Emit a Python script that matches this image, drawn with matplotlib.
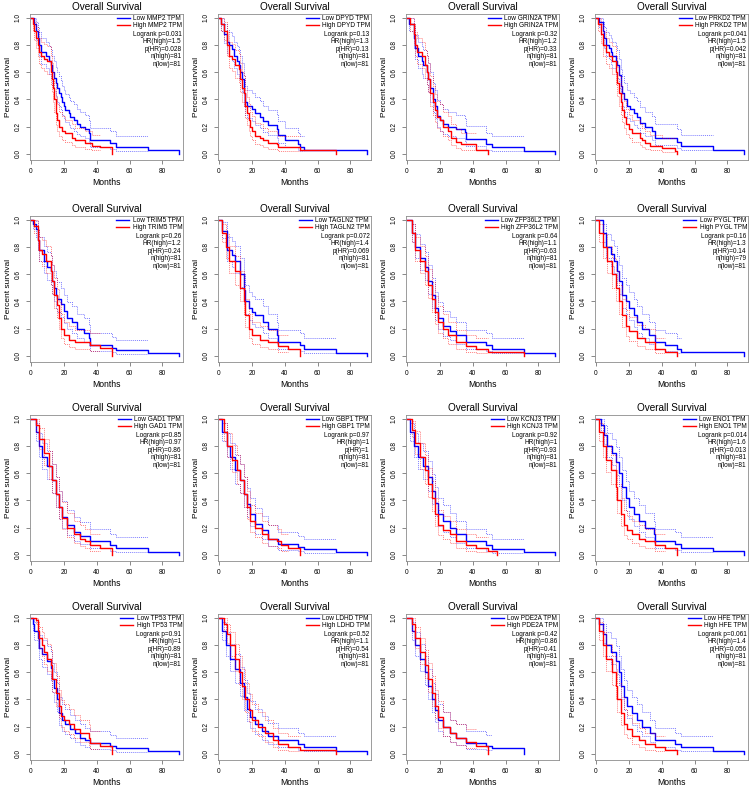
import numpy as np
import matplotlib
matplotlib.use("Agg")
import matplotlib.pyplot as plt

plt.rcParams['font.family'] = ['Liberation Sans', 'DejaVu Sans']

# ---------------- statistics shown in each panel ----------------
genes = ["MMP2", "DPYD", "GRIN2A", "PRKD2",
         "TRIM5", "TAGLN2", "ZFP36L2", "PYGL",
         "GAD1", "GBP1", "KCNJ3", "ENO1",
         "TP53", "LDHD", "PDE2A", "HFE"]
logrank_p = ["0.031", "0.13", "0.32", "0.041",
             "0.26", "0.072", "0.64", "0.16",
             "0.85", "0.97", "0.92", "0.014",
             "0.91", "0.52", "0.42", "0.061"]
hr_high = ["1.5", "1.3", "1.2", "1.5",
           "1.2", "1.4", "1.1", "1.3",
           "0.97", "1", "1", "1.6",
           "1", "1.1", "0.86", "1.4"]
p_hr = ["0.028", "0.13", "0.33", "0.042",
        "0.24", "0.069", "0.63", "0.14",
        "0.86", "1", "0.93", "0.013",
        "0.89", "0.54", "0.41", "0.056"]
n_high = [81, 81, 81, 81, 81, 81, 81, 79, 81, 81, 81, 81, 81, 81, 81, 81]
n_low = [81] * 16

x_ticks = [0, 20, 40, 60, 80]
y_ticks = [0.0, 0.2, 0.4, 0.6, 0.8, 1.0]

# ---------------- Kaplan-Meier step curves (months, survival) ----------------
MMP2_low_t = [0, 2, 3, 4, 5, 6, 9, 11, 12, 13, 14, 15, 16, 17, 18, 19, 20, 21, 23, 24, 26, 28, 30, 33, 35, 36, 48, 52, 71, 90]
MMP2_low_s = [1, .95, .9, .85, .8, .75, .72, .68, .65, .6, .56, .52, .48, .45, .42, .38, .35, .32, .3, .27, .25, .22, .2, .18, .15, .1, .08, .05, .025, 0]
MMP2_high_t = [0, 1, 2, 3, 4, 5, 6, 8, 10, 12, 13, 13.5, 14, 15, 16, 17, 19, 21, 25, 27, 33, 37, 42, 49]
MMP2_high_s = [1, .95, .9, .85, .8, .75, .72, .7, .68, .6, .55, .48, .4, .3, .25, .2, .17, .15, .12, .1, .08, .06, .05, 0]

DPYD_low_t = [0, 1, 3, 5, 6, 8, 9, 11, 12, 13, 14, 15, 16, 17, 20, 22, 25, 27, 30, 35, 36, 40, 48, 49, 52, 90]
DPYD_low_s = [1, .95, .88, .82, .8, .77, .72, .68, .65, .6, .55, .45, .38, .35, .33, .3, .27, .24, .21, .18, .14, .1, .07, .05, .025, 0]
DPYD_high_t = [0, 1, 3, 5, 6, 8, 10, 12, 13, 14, 15, 16, 17, 18, 19, 20, 22, 25, 27, 30, 35, 36, 49, 71]
DPYD_high_s = [1, .95, .9, .8, .72, .7, .65, .62, .55, .48, .45, .35, .3, .25, .2, .17, .13, .12, .1, .08, .07, .05, .025, 0]

GRIN2A_low_t = [0, 1, 4, 5, 7, 9, 10, 12, 13, 14, 16, 17, 18, 20, 22, 25, 30, 35, 36, 48, 52, 71, 90]
GRIN2A_low_s = [1, .95, .85, .78, .72, .68, .65, .6, .55, .48, .4, .35, .28, .25, .22, .2, .18, .16, .11, .07, .05, .02, 0]
GRIN2A_high_t = [0, 2, 4, 5, 6, 9, 11, 12, 13, 14, 16, 17, 18, 20, 22, 25, 27, 30, 33, 42, 49]
GRIN2A_high_s = [1, .95, .88, .8, .75, .72, .65, .6, .55, .45, .38, .32, .27, .25, .2, .17, .12, .09, .07, .03, 0]

PRKD2_low_t = [0, 2, 4, 5, 6, 8, 9, 10, 12, 13, 14, 15, 16, 17, 19, 21, 23, 25, 27, 30, 34, 36, 49, 52, 71, 90]
PRKD2_low_s = [1, .97, .9, .85, .8, .78, .75, .72, .68, .65, .58, .5, .45, .4, .35, .33, .3, .27, .23, .2, .17, .12, .09, .06, .03, 0]
PRKD2_high_t = [0, 1, 3, 4, 6, 8, 10, 12, 13, 14, 15, 16, 17, 18, 20, 22, 27, 28, 30, 33, 40, 48, 49]
PRKD2_high_s = [1, .95, .88, .8, .75, .72, .68, .6, .52, .45, .38, .32, .27, .22, .18, .15, .12, .1, .08, .06, .04, .02, 0]

TRIM5_low_t = [0, 1, 3, 4, 5, 8, 10, 12, 13, 14, 15, 16, 18, 20, 22, 25, 28, 32, 35, 36, 49, 52, 71, 90]
TRIM5_low_s = [1, .97, .93, .85, .78, .7, .65, .62, .55, .5, .45, .42, .38, .33, .28, .25, .2, .17, .13, .08, .06, .04, .02, 0]
TRIM5_high_t = [0, 2, 4, 5, 7, 9, 12, 13, 14, 16, 17, 18, 20, 23, 27, 36, 42, 49]
TRIM5_high_s = [1, .95, .85, .78, .75, .7, .62, .55, .45, .37, .28, .2, .15, .12, .1, .08, .06, 0]

TAGLN2_low_t = [0, 2, 5, 8, 10, 13, 15, 16, 18, 20, 22, 27, 30, 35, 36, 49, 52, 71, 90]
TAGLN2_low_s = [1, .92, .78, .74, .7, .6, .48, .4, .35, .32, .3, .25, .2, .15, .1, .08, .05, .02, 0]
TAGLN2_high_t = [0, 2, 4, 6, 10, 13, 15, 16, 18, 20, 25, 30, 36, 42, 49]
TAGLN2_high_s = [1, .9, .8, .7, .62, .5, .4, .3, .2, .15, .12, .1, .07, .05, 0]

ZFP36L2_low_t = [0, 3, 5, 8, 11, 13, 15, 17, 19, 22, 26, 30, 36, 48, 52, 71, 90]
ZFP36L2_low_s = [1, .9, .8, .72, .65, .55, .45, .35, .28, .22, .18, .15, .1, .08, .05, .02, 0]
ZFP36L2_high_t = [0, 3, 5, 8, 11, 13, 15, 17, 19, 22, 25, 30, 36, 42, 49, 71]
ZFP36L2_high_s = [1, .9, .78, .7, .62, .52, .42, .32, .25, .2, .15, .1, .07, .05, .025, 0]

PYGL_low_t = [0, 4, 6, 9, 11, 13, 14, 16, 18, 20, 23, 25, 28, 32, 36, 42, 49, 52, 90]
PYGL_low_s = [1, .9, .8, .75, .7, .62, .55, .45, .4, .35, .3, .25, .2, .15, .1, .08, .05, .03, 0]
PYGL_high_t = [0, 2, 4, 7, 10, 12, 14, 16, 18, 20, 25, 30, 36, 42, 49]
PYGL_high_s = [1, .9, .8, .7, .6, .5, .4, .3, .22, .18, .13, .1, .05, .03, 0]

GAD1_low_t = [0, 3, 5, 7, 10, 13, 15, 17, 19, 22, 26, 30, 36, 48, 52, 71, 90]
GAD1_low_s = [1, .9, .8, .72, .65, .55, .45, .35, .28, .22, .17, .14, .1, .07, .05, .02, 0]
GAD1_high_t = [0, 3, 5, 8, 11, 13, 15, 17, 19, 22, 26, 30, 33, 36, 42, 49]
GAD1_high_s = [1, .95, .85, .75, .65, .55, .45, .35, .27, .2, .15, .12, .1, .07, .05, 0]

GBP1_low_t = [0, 2, 5, 7, 10, 13, 15, 17, 19, 22, 26, 30, 36, 48, 52, 71, 90]
GBP1_low_s = [1, .9, .8, .72, .62, .55, .45, .37, .3, .23, .18, .12, .08, .06, .04, .02, 0]
GBP1_high_t = [0, 3, 5, 8, 11, 13, 15, 17, 19, 22, 26, 30, 35, 38, 42, 49]
GBP1_high_s = [1, .9, .8, .7, .62, .55, .45, .35, .25, .2, .15, .12, .1, .07, .05, 0]

KCNJ3_low_t = [0, 2, 4, 7, 10, 13, 15, 17, 19, 22, 26, 30, 36, 48, 52, 71, 90]
KCNJ3_low_s = [1, .9, .8, .72, .65, .57, .47, .38, .3, .25, .2, .15, .1, .07, .04, .02, 0]
KCNJ3_high_t = [0, 3, 5, 8, 11, 13, 15, 17, 19, 22, 26, 30, 36, 42, 49, 55]
KCNJ3_high_s = [1, .92, .82, .72, .62, .52, .42, .3, .22, .18, .15, .1, .07, .05, .03, 0]

ENO1_low_t = [0, 3, 5, 7, 10, 12, 14, 16, 18, 20, 23, 26, 30, 35, 36, 48, 52, 71, 90]
ENO1_low_s = [1, .95, .88, .8, .75, .68, .6, .5, .42, .35, .3, .25, .2, .15, .1, .08, .05, .03, 0]
ENO1_high_t = [0, 2, 4, 6, 9, 12, 13, 15, 17, 19, 22, 26, 30, 36, 42, 49]
ENO1_high_s = [1, .9, .8, .7, .62, .5, .4, .3, .22, .18, .15, .12, .1, .07, .05, 0]

TP53_low_t = [0, 1, 2, 4, 5, 7, 10, 12, 13, 14, 16, 17, 19, 21, 24, 27, 30, 33, 36, 48, 52, 71, 90]
TP53_low_s = [1, .95, .9, .85, .78, .73, .68, .63, .55, .48, .4, .3, .25, .22, .18, .15, .12, .1, .08, .06, .04, .02, 0]
TP53_high_t = [0, 3, 4, 5, 7, 8, 10, 12, 13, 15, 17, 18, 20, 23, 26, 30, 35, 36, 42, 49]
TP53_high_s = [1, .98, .9, .85, .8, .75, .7, .65, .55, .45, .35, .28, .25, .22, .18, .15, .12, .08, .06, 0]

LDHD_low_t = [0, 2, 4, 7, 10, 13, 15, 17, 19, 22, 26, 30, 36, 48, 52, 71, 90]
LDHD_low_s = [1, .9, .8, .7, .62, .52, .42, .33, .27, .22, .17, .13, .1, .07, .05, .02, 0]
LDHD_high_t = [0, 3, 5, 7, 10, 12, 14, 16, 18, 20, 24, 28, 33, 36, 42, 49, 71]
LDHD_high_s = [1, .95, .88, .8, .7, .6, .5, .4, .32, .25, .2, .15, .1, .07, .05, .03, 0]

PDE2A_low_t = [0, 3, 5, 8, 11, 13, 15, 17, 19, 22, 26, 30, 36, 48, 52, 71]
PDE2A_low_s = [1, .9, .8, .7, .6, .5, .4, .32, .25, .2, .15, .12, .08, .06, .04, 0]
PDE2A_high_t = [0, 3, 5, 8, 11, 13, 15, 17, 19, 22, 26, 30, 36, 42, 49]
PDE2A_high_s = [1, .95, .85, .75, .65, .55, .45, .35, .27, .2, .15, .12, .09, .06, 0]

HFE_low_t = [0, 2, 4, 6, 9, 12, 14, 15, 17, 19, 22, 25, 28, 33, 36, 48, 52, 71, 90]
HFE_low_s = [1, .95, .88, .8, .75, .68, .6, .5, .42, .35, .3, .25, .2, .15, .1, .07, .05, .02, 0]
HFE_high_t = [0, 2, 4, 6, 10, 12, 13, 15, 17, 19, 22, 26, 30, 36, 42, 49]
HFE_high_s = [1, .9, .8, .7, .6, .5, .4, .3, .22, .18, .13, .1, .07, .05, .03, 0]

curves = {
    "MMP2": (MMP2_low_t, MMP2_low_s, MMP2_high_t, MMP2_high_s),
    "DPYD": (DPYD_low_t, DPYD_low_s, DPYD_high_t, DPYD_high_s),
    "GRIN2A": (GRIN2A_low_t, GRIN2A_low_s, GRIN2A_high_t, GRIN2A_high_s),
    "PRKD2": (PRKD2_low_t, PRKD2_low_s, PRKD2_high_t, PRKD2_high_s),
    "TRIM5": (TRIM5_low_t, TRIM5_low_s, TRIM5_high_t, TRIM5_high_s),
    "TAGLN2": (TAGLN2_low_t, TAGLN2_low_s, TAGLN2_high_t, TAGLN2_high_s),
    "ZFP36L2": (ZFP36L2_low_t, ZFP36L2_low_s, ZFP36L2_high_t, ZFP36L2_high_s),
    "PYGL": (PYGL_low_t, PYGL_low_s, PYGL_high_t, PYGL_high_s),
    "GAD1": (GAD1_low_t, GAD1_low_s, GAD1_high_t, GAD1_high_s),
    "GBP1": (GBP1_low_t, GBP1_low_s, GBP1_high_t, GBP1_high_s),
    "KCNJ3": (KCNJ3_low_t, KCNJ3_low_s, KCNJ3_high_t, KCNJ3_high_s),
    "ENO1": (ENO1_low_t, ENO1_low_s, ENO1_high_t, ENO1_high_s),
    "TP53": (TP53_low_t, TP53_low_s, TP53_high_t, TP53_high_s),
    "LDHD": (LDHD_low_t, LDHD_low_s, LDHD_high_t, LDHD_high_s),
    "PDE2A": (PDE2A_low_t, PDE2A_low_s, PDE2A_high_t, PDE2A_high_s),
    "HFE": (HFE_low_t, HFE_low_s, HFE_high_t, HFE_high_s),
}

BLUE = "#0000ff"
RED = "#ff0000"


def conf_band(t, s, n):
    """95% log-type confidence limits (Greenwood, no censoring)."""
    t = np.asarray(t, float)
    s = np.asarray(s, float)
    k = np.max(np.nonzero(s > 0)[0])  # last positive index
    ss = s[:k]
    se = np.sqrt((1 - ss) / (n * ss))
    hi = np.minimum(ss * np.exp(1.96 * se), 1.0)
    lo = ss * np.exp(-1.96 * se)
    tt = t[:k + 1]
    hi = np.append(hi, hi[-1])
    lo = np.append(lo, lo[-1])
    return tt, lo, hi


def draw_km(ax, t, s, n, color, label):
    tt, lo, hi = conf_band(t, s, n)
    ax.step(tt, hi, where="post", color=color, lw=0.7, ls=(0, (1, 1)), alpha=0.5)
    ax.step(tt, lo, where="post", color=color, lw=0.7, ls=(0, (1, 1)), alpha=0.5)
    line, = ax.step(t, s, where="post", color=color, lw=1.0, label=label)
    return line


fig = plt.figure(figsize=(7.53, 7.90), dpi=100)
W, H = 753.0, 790.0
lefts = [30, 218, 406, 595]
tops = [14, 216, 415, 614]
aw, ah = 153, 146

for i, g in enumerate(genes):
    r, c = divmod(i, 4)
    ax = fig.add_axes([lefts[c] / W, 1 - (tops[r] + ah) / H, aw / W, ah / H])
    lt, ls_, ht, hs = curves[g]
    h1 = draw_km(ax, lt, ls_, n_low[i], BLUE, f"Low {g} TPM")
    h2 = draw_km(ax, ht, hs, n_high[i], RED, f"High {g} TPM")

    ax.set_xlim(-0.6, 92.5)
    ax.set_ylim(-0.045, 1.027)
    ax.set_xticks(x_ticks)
    ax.set_yticks(y_ticks)
    ax.set_yticklabels([f"{v:.1f}" for v in y_ticks], rotation=90, va="center")
    ax.tick_params(axis="both", labelsize=4.7, length=3, width=0.5,
                   color="0.35", pad=3)
    for sp in ax.spines.values():
        sp.set_color("0.55")
        sp.set_linewidth(0.6)
    ax.set_title("Overall Survival", fontsize=7.2, pad=3)
    ax.set_xlabel("Months", fontsize=6.2, labelpad=2)
    ax.set_ylabel("Percent survival", fontsize=6, labelpad=2)

    ax.legend(handles=[h1, h2], loc="upper right", frameon=False,
              fontsize=4.7, labelspacing=0.0, borderpad=0.0,
              borderaxespad=0.0, handlelength=2.0, handletextpad=0.5,
              bbox_to_anchor=(0.995, 0.99))
    stats = [f"Logrank p={logrank_p[i]}", f"HR(high)={hr_high[i]}", f"p(HR)={p_hr[i]}",
             f"n(high)={n_high[i]}", f"n(low)={n_low[i]}"]
    for j, txt in enumerate(stats):
        ax.text(0.99, 0.862 - j * 0.052, txt, transform=ax.transAxes, fontsize=4.7,
                va="center", ha="right")

fig.savefig("out.png", dpi=100)
